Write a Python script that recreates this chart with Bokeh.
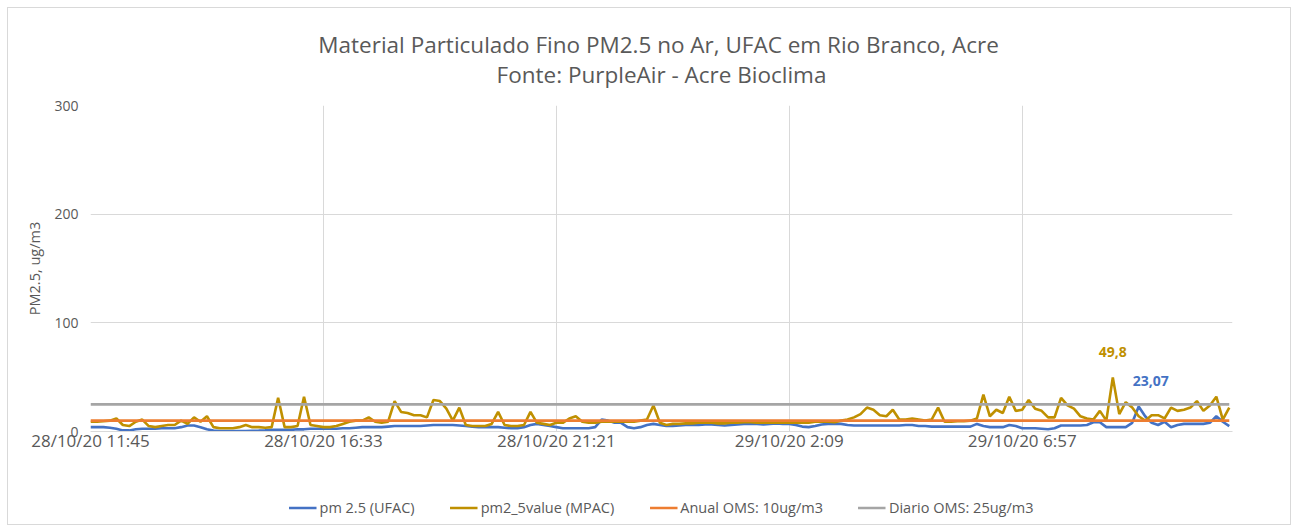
from bokeh.plotting import figure
from bokeh.layouts import column
from bokeh.models import ColumnDataSource, FixedTicker, Legend, LegendItem, Title, Label
from bokeh.embed import file_html
from bokeh.resources import INLINE

# ---------------- data ----------------
tick_labels = ["28/10/20 11:45", "28/10/20 16:33", "28/10/20 21:21", "29/10/20 2:09", "29/10/20 6:57"]
tick_step = 36  # samples between labelled timestamps

pm25_ufac = [
    4, 4, 4, 3.5, 2.5, 1, 1, 2, 2.5, 2.5, 2.5, 3, 3, 3, 4, 5.5, 5.5, 4, 2, 0.8,
    0.5, 0.5, 0.5, 0.5, 0.5, 0.7, 0.8, 1, 1.5, 1.5, 1.5, 1.5, 2, 2, 2.5, 2.5,
    2.5, 2.5, 2.5, 3, 3, 3.5, 4, 4, 4, 4, 4.5, 5, 5, 5, 5, 5, 5.5, 6, 6, 6, 6, 5.5,
    5, 4.5, 4, 4, 4, 4, 3.5, 3, 3, 4, 6, 7, 6, 5,
    4, 3, 3, 3, 3, 3, 4, 11, 10, 8, 8, 4, 3, 4, 6, 7, 6, 5, 5, 5.5, 6, 6, 6, 6.5,
    6.5, 6, 5.5, 6, 6.5, 7, 7, 7, 6.5, 7, 7.5, 7,
    7, 6, 4.5, 4, 5, 6.5, 7, 7, 7, 6, 5.5, 5.5, 5.5, 5.5, 5.5, 5.5, 5.5, 5.5, 6, 6,
    5, 5, 4.5, 4.5, 4.5, 4.5, 4.5, 4.5, 4.5, 7, 5, 4, 4, 4, 6, 5, 3, 3, 3, 2.5, 2,
    3, 5.5, 5.5, 5.5, 5.5, 6, 8.5, 8.5, 4, 4, 4, 4, 8, 23.07, 14, 8, 6, 9, 4, 6, 7,
    7, 7, 7, 8, 14, 9, 5,
]

pm25_mpac = [
    9, 9, 9.5, 10, 12, 6, 5, 9, 11, 5, 4, 5, 6, 6, 10, 7, 13, 9, 14, 4,
    3, 3, 3, 4, 6, 4, 4, 3.5, 4, 31, 4, 4, 5, 32, 6, 5,
    4, 4, 5, 7, 9, 10, 10, 13, 9, 8, 9, 28, 18, 17, 15, 15, 13, 29, 28, 21, 10, 22,
    6, 5, 5, 5, 7, 18, 6, 5, 5, 6, 18, 8, 7, 6,
    8, 8, 12, 14, 9, 8, 8, 9, 9, 9, 9, 9, 9, 10, 11, 24, 8, 6, 7, 7, 7.5, 7.5, 8, 8,
    8, 7.5, 7.5, 8, 8, 8.5, 8.5, 8, 8, 8, 8, 8,
    8, 8, 8, 8, 9, 9, 9, 8.5, 10, 11, 13, 16, 22, 20, 15, 14, 20, 11, 11, 12, 11, 10,
    11, 22, 9, 9, 9.5, 9.5, 10, 12, 34, 14, 20, 17, 32, 19, 20, 29, 21, 19, 13, 13,
    31, 24, 21, 14, 12, 11, 19, 10, 49.8, 16, 27, 22, 14, 10, 15, 15, 12, 22, 19, 20,
    22, 28, 19, 24, 32, 11, 22,
]

anual_oms = 10
diario_oms = 25

series_names = ["pm 2.5 (UFAC)", "pm2_5value (MPAC)", "Anual OMS: 10ug/m3", "Diario OMS: 25ug/m3"]
colors = ["#4472C4", "#BF9000", "#ED7D31", "#A5A5A5"]

n = len(pm25_ufac)
idx = list(range(n))
src = ColumnDataSource(dict(
    x=idx,
    ufac=pm25_ufac,
    mpac=pm25_mpac,
    anual=[anual_oms] * n,
    diario=[diario_oms] * n,
))

FONT = "Open Sans"
TXT = "#595959"
W = 1282

p = figure(width=W, height=482, output_backend="svg", toolbar_location=None,
           x_range=(0, n - 0.5), y_range=(0, 300),
           min_border_left=82, min_border_right=58, min_border_top=97, min_border_bottom=59)
p.outline_line_color = None
p.background_fill_color = "white"

lw = 2.6
r1 = p.line("x", "ufac", source=src, color=colors[0], line_width=lw)
r2 = p.line("x", "mpac", source=src, color=colors[1], line_width=lw)
r3 = p.line("x", "anual", source=src, color=colors[2], line_width=lw)
r4 = p.line("x", "diario", source=src, color=colors[3], line_width=lw)

# axes
ticks = [i * tick_step for i in range(len(tick_labels))]
p.xaxis.ticker = FixedTicker(ticks=ticks)
p.xaxis.major_label_overrides = {t: l for t, l in zip(ticks, tick_labels)}
p.xaxis.axis_line_color = "#D9D9D9"
p.xaxis.major_tick_line_color = None
p.xaxis.minor_tick_line_color = None
p.xaxis.major_tick_out = 0
p.xaxis.major_tick_in = 0
p.xaxis.minor_tick_out = 0
p.xaxis.major_label_text_font = FONT
p.xaxis.major_label_text_font_size = "17px"
p.xaxis.major_label_text_color = TXT
p.xaxis.major_label_standoff = -3

p.yaxis.ticker = FixedTicker(ticks=[0, 100, 200, 300])
p.yaxis.axis_line_color = None
p.yaxis.major_tick_line_color = None
p.yaxis.minor_tick_line_color = None
p.yaxis.major_label_text_font = FONT
p.yaxis.major_label_text_font_size = "14px"
p.yaxis.major_label_text_color = TXT
p.yaxis.major_label_standoff = 6
p.yaxis.axis_label = "PM2.5, ug/m3"
p.yaxis.axis_label_text_font = FONT
p.yaxis.axis_label_text_font_style = "normal"
p.yaxis.axis_label_text_font_size = "14.5px"
p.yaxis.axis_label_text_color = TXT
p.yaxis.axis_label_standoff = 7

p.xgrid.ticker = FixedTicker(ticks=ticks)
p.xgrid.grid_line_color = "#D9D9D9"
p.ygrid.ticker = FixedTicker(ticks=[100, 200, 300])
p.ygrid.grid_line_color = "#D9D9D9"

# data labels on the maxima
for vals, col in ((pm25_mpac, colors[1]), (pm25_ufac, colors[0])):
    vmax = max(vals)
    i = vals.index(vmax)
    txt = f"{vmax:g}".replace(".", ",")
    dx = 0 if col == colors[1] else 12
    p.add_layout(Label(x=i, y=vmax, text=txt, x_offset=dx, y_offset=25,
                       text_align="center", text_baseline="middle",
                       text_font=FONT, text_font_style="bold", text_font_size="14px",
                       text_color=col))

# titles (spacer, subtitle, main title - stacked outward from the plot)
p.add_layout(Title(text=" ", text_font_size="1px", standoff=16), "above")
p.add_layout(Title(text="Fonte: PurpleAir - Acre Bioclima", align="center",
                   text_font=FONT, text_font_style="normal", text_font_size="22.5px",
                   text_color=TXT, standoff=-6), "above")
p.add_layout(Title(text="Material Particulado Fino PM2.5 no Ar,  UFAC em Rio Branco, Acre", align="center",
                   text_font=FONT, text_font_style="normal", text_font_size="22.5px",
                   text_color=TXT, standoff=0), "above")

# legend strip below the chart
lg = figure(width=W, height=34, output_backend="svg", toolbar_location=None,
            x_range=(0, 1), y_range=(0, 1), min_border=0)
lg.axis.visible = False
lg.grid.visible = False
lg.outline_line_color = None
lrs = [lg.line(x=[5, 6], y=[5, 5], color=c, line_width=lw) for c in colors]
legend = Legend(items=[LegendItem(label=nm, renderers=[r]) for nm, r in zip(series_names, lrs)],
                orientation="horizontal", location="center",
                label_text_font=FONT, label_text_font_size="14.5px", label_text_color=TXT,
                glyph_width=28, glyph_height=14, label_standoff=3, spacing=35,
                border_line_color=None, background_fill_alpha=0, padding=0, margin=0)
lg.add_layout(legend, "center")

layout = column(p, lg, spacing=0, margin=(7, 0, 0, 7),
                styles={"border": "1px solid #D9D9D9", "background-color": "white"})
open("out.html", "w").write(file_html(layout, INLINE))
